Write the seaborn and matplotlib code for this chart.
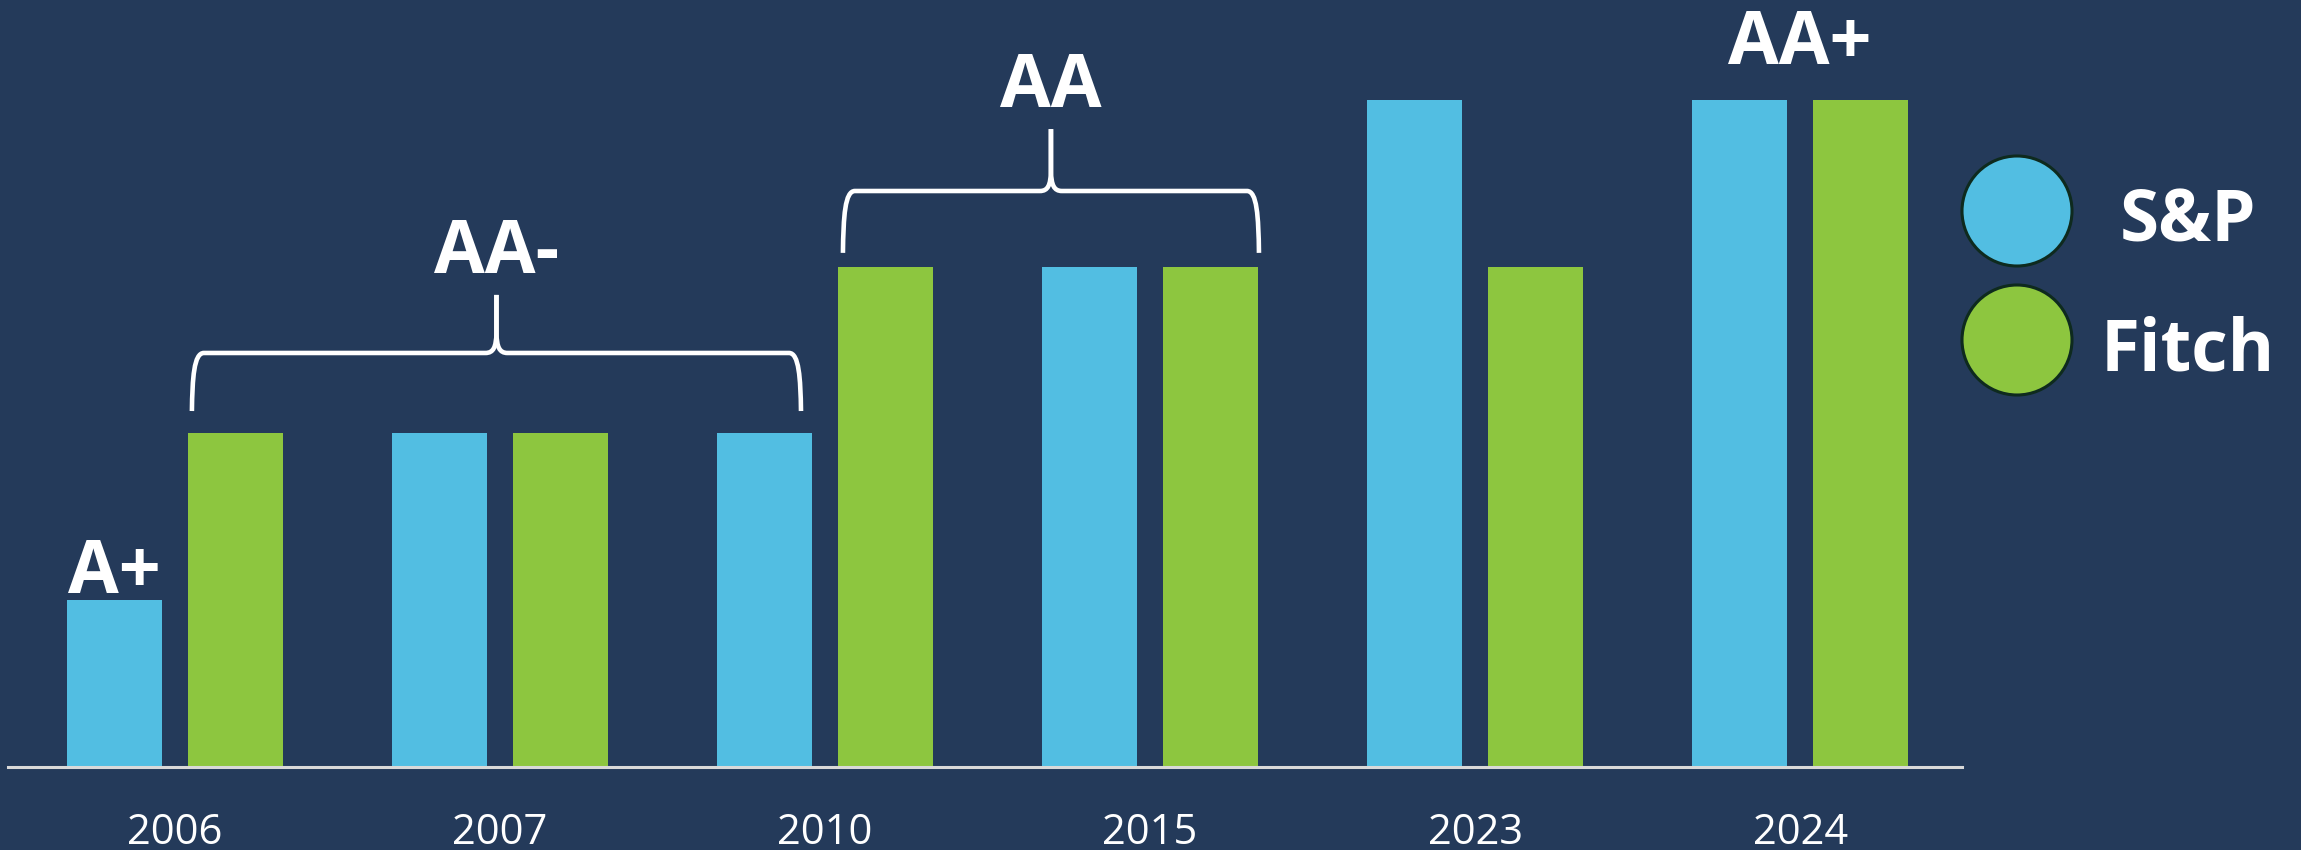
import matplotlib
matplotlib.use("Agg")
import matplotlib.pyplot as plt
from matplotlib.path import Path
from matplotlib.patches import PathPatch, Circle
import seaborn as sns
import pandas as pd

# ---------------- data ----------------
years = ["2006", "2007", "2010", "2015", "2023", "2024"]
agencies = ["S&P", "Fitch"]
rating_scale = ["A+", "AA-", "AA", "AA+"]          # ordinal scale (level 1..4)
sp_ratings = ["A+", "AA-", "AA-", "AA", "AA+", "AA+"]
fitch_ratings = ["AA-", "AA-", "AA", "AA", "AA", "AA+"]

# annotation labels
single_labels = ["A+", "AA+"]
brace_labels = ["AA-", "AA"]

# ---------------- style ----------------
BG = "#243A5A"
BLUE = "#52BEE2"
GREEN = "#8DC63F"
WHITE = "#FFFFFF"
AXIS = "#D9D9D9"

sns.set_theme(style="white")
plt.rcParams["font.family"] = ["Open Sans", "DejaVu Sans"]

level = {r: i + 1 for i, r in enumerate(rating_scale)}
df = pd.DataFrame({
    "Year": years * 2,
    "Agency": ["S&P"] * len(years) + ["Fitch"] * len(years),
    "Level": [level[r] for r in sp_ratings] + [level[r] for r in fitch_ratings],
})

W, H, DPI = 2301, 850, 100
fig = plt.figure(figsize=(W / DPI, H / DPI), dpi=DPI, facecolor=BG)
ax_left, ax_right, ax_bottom = 8, 1962, 767
ax = fig.add_axes([ax_left / W, (H - ax_bottom) / H, (ax_right - ax_left) / W, ax_bottom / H])
ax.set_facecolor(BG)

sns.barplot(data=df, x="Year", y="Level", hue="Agency", order=years, hue_order=agencies,
            palette=[BLUE, GREEN], width=0.744, gap=0.215, linewidth=0,
            saturation=1, legend=False, ax=ax)

ax.set_xlim(-0.5138, 5.498)
ax.set_ylim(0, 4.598)
for s in ["top", "left", "right"]:
    ax.spines[s].set_visible(False)
ax.spines["bottom"].set_color(AXIS)
ax.spines["bottom"].set_linewidth(2.2)
ax.set_yticks([])
ax.set_xlabel("")
ax.set_ylabel("")
ax.tick_params(axis="x", length=0, pad=32.5, labelsize=30, labelcolor=WHITE)

# pixel -> data conversion
x0l, x1l = ax.get_xlim()
y0l, y1l = ax.get_ylim()
dx = (x1l - x0l) / (ax_right - ax_left)
dy = (y1l - y0l) / ax_bottom

LBL_FS = 53


def half_brace(xa, xm, yb, yh, yt, sgn):
    # sgn = +1 for left half, -1 for right half
    verts = [
        (xa, yb),
        (xa + sgn * 0.5 * dx, yh - 25 * dy),
        (xa + sgn * 2 * dx, yh),
        (xa + sgn * 12 * dx, yh),
        (xm - sgn * 11 * dx, yh),
        (xm - sgn * 3 * dx, yh),
        (xm - sgn * 0.3 * dx, yh + 6 * dy),
        (xm, yh + 20 * dy),
        (xm, yt),
    ]
    codes = [Path.MOVETO, Path.CURVE4, Path.CURVE4, Path.CURVE4, Path.LINETO,
             Path.CURVE4, Path.CURVE4, Path.CURVE4, Path.LINETO]
    return Path(verts, codes)


def brace(xa, xb, yb, hh):
    xm = (xa + xb) / 2
    yh = yb + hh
    yt = yh + hh
    for p in (half_brace(xa, xm, yb, yh, yt, 1), half_brace(xb, xm, yb, yh, yt, -1)):
        ax.add_patch(PathPatch(p, fill=False, edgecolor=WHITE, linewidth=3.3,
                               capstyle="butt", joinstyle="round", zorder=5))
    return xm, yt


# braces: (x start, x end, bottom y, half height) in data units
brace_geom = [(0.052, 1.926, 2.134, 0.348), (2.055, 3.335, 3.082, 0.371)]
for lab, (xa, xb, yb, hh) in zip(brace_labels, brace_geom):
    xm, yt = brace(xa, xb, yb, hh)
    ax.text(xm, yt + 0.133, lab, ha="center", va="baseline", color=WHITE,
            fontsize=LBL_FS, fontweight="bold", zorder=6)

# single labels
single_pos = [(-0.186, 1.043), (5.0, 4.215)]
for lab, (x, y) in zip(single_labels, single_pos):
    ax.text(x, y, lab, ha="center", va="baseline", color=WHITE,
            fontsize=LBL_FS, fontweight="bold", zorder=6)

# ---------------- legend ----------------
leg_colors = [BLUE, GREEN]
leg_cy = [211, 340]
for name, col, cy in zip(agencies, leg_colors, leg_cy):
    c = Circle((2017 / DPI, (H - cy) / DPI), 55 / DPI, transform=fig.dpi_scale_trans,
               facecolor=col, edgecolor="#0E2A1E", linewidth=2.2)
    fig.add_artist(c)
    fig.text(2188 / W, (H - cy - 3) / H, name, ha="center", va="center_baseline",
             color=WHITE, fontsize=LBL_FS - 2, fontweight="bold")

fig.savefig("out.png", dpi=DPI, facecolor=BG)
